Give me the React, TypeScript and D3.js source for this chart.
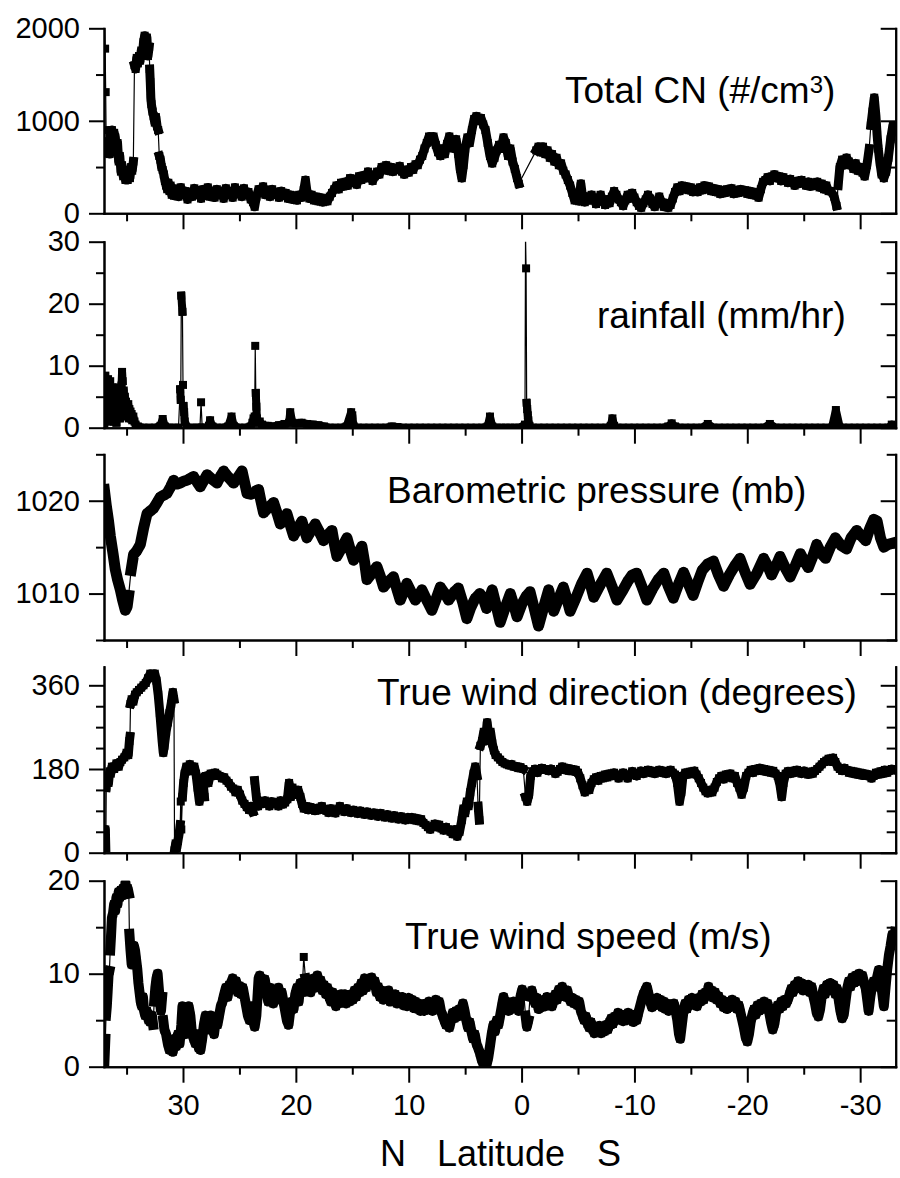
import React, { useEffect, useRef } from "react";
import * as d3 from "d3";

type Pt = [number, number];

// ---------- data: [latitude, value] ----------
const cnData: Pt[] = [
  [36.97, 2150], [36.9, 1780], [36.85, 1310], [36.8, 680], [36.75, 900], [36.7, 650], [36.6, 780], [36.5, 640], [36.4, 820], [36.3, 900],
  [36.2, 760], [36.1, 870], [36.0, 820], [35.9, 700], [35.8, 760], [35.7, 560], [35.6, 620], [35.5, 450], [35.4, 520], [35.3, 400],
  [35.2, 430], [35.1, 360], [35.0, 400], [34.9, 360], [34.8, 420], [34.7, 380], [34.6, 500], [34.5, 460], [34.4, 560],
  [34.3, 1600], [34.2, 1560], [34.1, 1680], [34.0, 1620], [33.9, 1700], [33.8, 1650], [33.7, 1760], [33.6, 1700], [33.5, 1850], [33.4, 1920],
  [33.3, 1780], [33.2, 1900], [33.1, 1700], [33.0, 1800], [32.95, 1560], [32.9, 1420], [32.85, 1250], [32.8, 1180], [32.7, 1100], [32.6, 1050],
  [32.5, 980], [32.4, 1040], [32.3, 940], [32.2, 900], [32.1, 620], [32.0, 580], [31.9, 500], [31.8, 470], [31.7, 420], [31.6, 350],
  [31.5, 300], [31.4, 260], [31.3, 330], [31.2, 240], [31.1, 300], [31.0, 200], [30.9, 270], [30.8, 190], [30.6, 260], [30.4, 180],
  [30.2, 280], [30.0, 200], [29.8, 240], [29.6, 150], [29.4, 230], [29.2, 180], [29.0, 270], [28.8, 200], [28.6, 250], [28.4, 160],
  [28.2, 260], [28.0, 190], [27.8, 280], [27.6, 180], [27.4, 240], [27.2, 170], [27.0, 260], [26.8, 200], [26.6, 240], [26.4, 160],
  [26.2, 270], [26.0, 200], [25.8, 230], [25.6, 170], [25.4, 280], [25.2, 210], [25.0, 250], [24.8, 180], [24.6, 270], [24.4, 200],
  [24.2, 230], [24.0, 150], [23.8, 120], [23.65, 70], [23.5, 180], [23.3, 260], [23.1, 220], [22.9, 290], [22.7, 200], [22.5, 250],
  [22.3, 180], [22.1, 260], [21.9, 200], [21.7, 230], [21.5, 170], [21.3, 240], [21.1, 190], [20.9, 220], [20.7, 160], [20.5, 200],
  [20.3, 150], [20.1, 190], [19.9, 140], [19.7, 200], [19.5, 170], [19.3, 250], [19.15, 360], [19.0, 220], [18.8, 160], [18.6, 200],
  [18.4, 140], [18.2, 180], [18.0, 130], [17.8, 170], [17.6, 120], [17.4, 160], [17.2, 130], [17.0, 180], [16.8, 220], [16.6, 260],
  [16.4, 300], [16.2, 260], [16.0, 330], [15.8, 290], [15.6, 340], [15.4, 300], [15.2, 380], [15.0, 330], [14.8, 370], [14.6, 310],
  [14.4, 400], [14.2, 360], [14.0, 410], [13.8, 380], [13.6, 450], [13.4, 400], [13.2, 350], [13.0, 400], [12.8, 450], [12.6, 420],
  [12.4, 500], [12.2, 470], [12.0, 520], [11.8, 460], [11.6, 500], [11.4, 450], [11.2, 490], [11.0, 470], [10.8, 510], [10.6, 450],
  [10.4, 420], [10.2, 470], [10.0, 440], [9.8, 500], [9.6, 470], [9.4, 530], [9.2, 520], [9.0, 580], [8.8, 620], [8.6, 700],
  [8.4, 760], [8.2, 830], [8.0, 780], [7.8, 830], [7.6, 740], [7.4, 660], [7.2, 620], [7.0, 700], [6.8, 640], [6.6, 750],
  [6.4, 830], [6.2, 760], [6.0, 700], [5.8, 800], [5.6, 640], [5.45, 480], [5.3, 380], [5.15, 520], [5.0, 700], [4.8, 820],
  [4.6, 760], [4.4, 900], [4.2, 1020], [4.0, 1050], [3.8, 1000], [3.6, 1030], [3.4, 960], [3.2, 900], [3.0, 760], [2.8, 620],
  [2.6, 540], [2.4, 600], [2.2, 680], [2.0, 740], [1.8, 700], [1.6, 820], [1.4, 760], [1.2, 620], [1.0, 700], [0.8, 560],
  [0.6, 480], [0.4, 380], [0.25, 320],
  [-1.3, 680], [-1.5, 720], [-1.7, 660], [-1.9, 720], [-2.1, 640], [-2.3, 680], [-2.5, 600], [-2.7, 640], [-2.9, 560], [-3.1, 600],
  [-3.3, 520], [-3.5, 540], [-3.7, 460], [-3.9, 420], [-4.1, 360], [-4.3, 300], [-4.5, 220], [-4.7, 140], [-4.9, 200], [-5.1, 130],
  [-5.25, 320], [-5.4, 180], [-5.6, 120], [-5.8, 180], [-6.0, 140], [-6.2, 200], [-6.4, 150], [-6.6, 100], [-6.8, 160], [-7.0, 200],
  [-7.2, 130], [-7.4, 90], [-7.6, 150], [-7.8, 110], [-8.0, 180], [-8.2, 240], [-8.4, 200], [-8.6, 150], [-8.8, 120], [-9.0, 80],
  [-9.2, 140], [-9.4, 200], [-9.6, 160], [-9.8, 220], [-10.0, 170], [-10.2, 120], [-10.4, 80], [-10.6, 60], [-10.8, 110], [-11.0, 150],
  [-11.2, 200], [-11.4, 160], [-11.6, 100], [-11.8, 70], [-12.0, 130], [-12.2, 180], [-12.4, 120], [-12.6, 70], [-12.8, 110], [-13.0, 60],
  [-13.2, 90], [-13.4, 160], [-13.6, 230], [-13.8, 280], [-14.0, 240], [-14.2, 300], [-14.4, 260], [-14.6, 290], [-14.8, 250], [-15.0, 280],
  [-15.2, 230], [-15.4, 260], [-15.6, 230], [-15.8, 280], [-16.0, 250], [-16.2, 300], [-16.4, 260], [-16.6, 290], [-16.8, 240], [-17.0, 270],
  [-17.2, 230], [-17.4, 260], [-17.6, 210], [-17.8, 250], [-18.0, 220], [-18.2, 260], [-18.4, 230], [-18.6, 270], [-18.8, 210], [-19.0, 250],
  [-19.2, 220], [-19.4, 260], [-19.6, 230], [-19.8, 250], [-20.0, 210], [-20.2, 240], [-20.4, 200], [-20.6, 230], [-20.8, 190], [-21.0, 170],
  [-21.2, 260], [-21.4, 340], [-21.6, 360], [-21.8, 390], [-22.0, 350], [-22.2, 400], [-22.4, 420], [-22.6, 380], [-22.8, 400], [-23.0, 350],
  [-23.2, 390], [-23.4, 360], [-23.6, 330], [-23.8, 370], [-24.0, 340], [-24.2, 300], [-24.4, 350], [-24.6, 320], [-24.8, 360], [-25.0, 330],
  [-25.2, 300], [-25.4, 340], [-25.6, 290], [-25.8, 330], [-26.0, 300], [-26.2, 340], [-26.4, 280], [-26.6, 320], [-26.8, 260], [-27.0, 300],
  [-27.2, 240], [-27.4, 240], [-27.7, 180], [-27.9, 80], [-28.05, 300], [-28.2, 500], [-28.4, 580], [-28.6, 520], [-28.8, 600], [-29.0, 560],
  [-29.2, 520], [-29.4, 480], [-29.6, 540], [-29.8, 460], [-30.0, 500], [-30.2, 440], [-30.4, 400], [-30.6, 520], [-30.8, 700], [-30.95, 950],
  [-31.1, 1100], [-31.25, 1250], [-31.4, 1050], [-31.5, 850], [-31.6, 700], [-31.75, 550], [-31.9, 420], [-32.1, 380], [-32.3, 450], [-32.5, 600],
  [-32.7, 800], [-32.9, 950], [-33.1, 880],
];

const rainData: Pt[] = [
  [36.97, 0], [36.93, 4], [36.88, 8.4], [36.84, 2], [36.8, 6], [36.75, 1], [36.7, 5], [36.65, 7.8], [36.6, 3], [36.55, 5.5],
  [36.5, 1.5], [36.45, 7.5], [36.4, 2.5], [36.35, 4.5], [36.3, 1], [36.25, 6.5], [36.2, 2], [36.15, 4], [36.1, 1], [36.05, 5.5],
  [36.0, 2.5], [35.95, 3.5], [35.9, 0.8], [35.85, 5], [35.8, 2], [35.75, 6.5], [35.7, 3], [35.65, 4.5], [35.6, 1.5], [35.55, 6],
  [35.5, 2.5], [35.45, 6.8], [35.4, 9.0], [35.35, 7.5], [35.3, 4], [35.25, 6], [35.2, 3], [35.15, 5], [35.1, 2.5], [35.05, 4.2],
  [35.0, 1.8], [34.95, 3.5], [34.9, 2.2], [34.85, 3.8], [34.8, 1.5], [34.75, 3], [34.7, 2], [34.65, 2.6], [34.6, 1.5], [34.55, 2.2],
  [34.5, 1.2], [34.4, 1.8], [34.3, 1], [34.2, 0.5], [34.0, 0.2], [33.5, 0], [33.0, 0], [32.5, 0], [32.0, 0.3], [31.8, 1.4],
  [31.6, 0.2], [31.2, 0], [30.8, 0], [30.4, 0], [30.25, 6.2], [30.2, 4.5], [30.15, 21.3], [30.05, 18.7], [30.0, 6.9], [29.95, 3.5],
  [29.9, 2.5], [29.85, 1], [29.6, 0], [29.2, 0], [28.8, 0], [28.5, 0], [28.4, 4.1], [28.3, 0], [28.0, 0], [27.7, 0.3],
  [27.6, 1.2], [27.4, 0.2], [27.0, 0], [26.5, 0], [26.0, 0.2], [25.7, 1.8], [25.5, 0.3], [25.0, 0], [24.5, 0], [24.0, 0.2],
  [23.85, 0.8], [23.75, 1.5], [23.65, 1.8], [23.6, 13.2], [23.55, 5.6], [23.5, 3.4], [23.45, 1.5], [23.35, 0.8], [23.2, 1.0], [23.0, 0.5],
  [22.5, 0.3], [22.0, 0.2], [21.5, 0.4], [21.0, 0.6], [20.6, 0.8], [20.5, 2.5], [20.3, 0.8], [20.0, 0.7], [19.5, 0.8], [19.0, 0.6],
  [18.5, 0.5], [18.0, 0.4], [17.5, 0.2], [17.0, 0], [16.5, 0], [16.0, 0], [15.5, 0.2], [15.1, 2.5], [15.0, 2.0], [14.9, 0.3],
  [14.5, 0], [14.0, 0], [13.5, 0], [13.0, 0], [12.5, 0], [12.0, 0], [11.5, 0.2], [11.0, 0.1], [10.5, 0], [10.0, 0],
  [9.5, 0], [9.0, 0], [8.5, 0], [8.0, 0], [7.5, 0], [7.0, 0], [6.5, 0], [6.0, 0], [5.5, 0], [5.0, 0],
  [4.5, 0], [4.0, 0], [3.5, 0], [3.0, 0.2], [2.8, 1.8], [2.6, 0.2], [2.2, 0], [1.8, 0], [1.4, 0], [1.0, 0],
  [0.6, 0], [0.2, 0], [-0.3, 0.5], [-0.35, 31], [-0.4, 25.7], [-0.45, 4.0], [-0.5, 3.0], [-0.55, 2.0], [-0.6, 1.2], [-0.7, 0.3],
  [-1.0, 0], [-1.5, 0], [-2.0, 0], [-2.5, 0], [-3.0, 0], [-3.5, 0], [-4.0, 0], [-4.5, 0], [-5.0, 0], [-5.5, 0],
  [-6.0, 0], [-6.5, 0], [-7.0, 0], [-7.5, 0], [-7.9, 0.3], [-8.05, 1.5], [-8.2, 0.3], [-8.5, 0], [-9.0, 0], [-9.5, 0],
  [-10.0, 0], [-10.5, 0], [-11.0, 0], [-11.5, 0], [-12.0, 0], [-12.5, 0], [-13.0, 0.2], [-13.3, 0.7], [-13.6, 0.2], [-14.0, 0],
  [-14.5, 0], [-15.0, 0], [-15.5, 0], [-16.0, 0], [-16.5, 0.6], [-17.0, 0], [-17.5, 0], [-18.0, 0], [-18.5, 0], [-19.0, 0],
  [-19.5, 0], [-20.0, 0], [-20.5, 0], [-21.0, 0], [-21.5, 0], [-22.0, 0.6], [-22.5, 0], [-23.0, 0], [-23.5, 0], [-24.0, 0],
  [-24.5, 0], [-25.0, 0], [-25.5, 0], [-26.0, 0], [-26.5, 0], [-27.0, 0], [-27.5, 0], [-27.85, 2.85], [-28.2, 0], [-28.5, 0],
  [-29.0, 0], [-29.5, 0], [-30.0, 0], [-30.5, 0], [-31.0, 0], [-31.5, 0], [-32.0, 0], [-32.5, 0], [-32.8, 0.5], [-33.1, 0],
];

const pressureData: Pt[] = [
  [36.97, 1021.2], [36.8, 1019.5], [36.6, 1017.8], [36.44, 1016.2], [36.2, 1014.3], [36.0, 1012.6], [35.8, 1011.5], [35.55, 1010.4], [35.35, 1009.3], [35.11, 1008.2],
  [34.95, 1008.6], [34.82, 1009.8], [34.6, 1012.5], [34.38, 1014.2], [34.1, 1014.6], [33.78, 1015.3], [33.5, 1017], [33.19, 1018.6], [32.9, 1018.9], [32.6, 1019.2],
  [32.3, 1019.8], [32.01, 1020.4], [31.7, 1020.6], [31.42, 1020.8], [31.1, 1021.5], [30.83, 1022.2], [30.5, 1021.8], [30.24, 1021.9], [29.95, 1022.1], [29.65, 1022.2],
  [29.35, 1022.4], [29.06, 1022.6], [28.75, 1022], [28.47, 1021.5], [28.15, 1022.2], [27.87, 1022.8], [27.4, 1022.3], [26.99, 1021.9], [26.7, 1022.6], [26.4, 1023.2],
  [25.95, 1022.5], [25.52, 1021.9], [25.15, 1022.5], [24.77, 1023.2], [24.55, 1022], [24.33, 1020.8], [24.0, 1020.7], [23.75, 1020.8], [23.5, 1021.1], [23.3, 1021.2],
  [23.1, 1020], [22.86, 1018.7], [22.4, 1019.3], [21.97, 1019.8], [21.65, 1018.6], [21.38, 1017.5], [21.1, 1018], [20.79, 1018.6], [20.5, 1017.4], [20.2, 1016.2],
  [19.85, 1017], [19.46, 1017.8], [19.25, 1016.9], [19.02, 1016], [18.65, 1016.8], [18.28, 1017.5], [17.9, 1016.6], [17.55, 1015.7], [17.2, 1016.3], [16.8, 1016.8],
  [16.6, 1015.4], [16.36, 1014], [15.9, 1015], [15.47, 1016], [15.2, 1014.8], [14.89, 1013.6], [14.5, 1014.3], [14.15, 1015.1], [13.9, 1013.3], [13.7, 1011.5],
  [13.25, 1012.2], [12.82, 1012.9], [12.5, 1011.8], [12.23, 1010.7], [11.8, 1011.3], [11.35, 1011.8], [11.05, 1010.5], [10.75, 1009.3], [10.45, 1010.2], [10.16, 1011.1],
  [9.8, 1010.2], [9.42, 1009.3], [9.1, 1009.8], [8.83, 1010.4], [8.4, 1009.3], [7.95, 1008.2], [7.55, 1009.5], [7.2, 1010.7], [6.8, 1010], [6.47, 1009.3],
  [5.95, 1010.2], [5.6, 1010.6], [5.2, 1009], [4.85, 1007.3], [4.5, 1008.5], [4.1, 1009.5], [3.7, 1010], [3.4, 1009.5], [3.1, 1008.4], [2.85, 1009.5],
  [2.6, 1010.4], [2.25, 1008.7], [1.9, 1006.9], [1.45, 1008.5], [1.0, 1010], [0.7, 1008.8], [0.4, 1007.5], [0.0, 1008.8], [-0.4, 1009.7], [-0.75, 1010.2],
  [-1.1, 1008.5], [-1.5, 1006.5], [-1.95, 1008.5], [-2.4, 1010.4], [-2.6, 1009.2], [-2.85, 1008.1], [-3.3, 1009.5], [-3.7, 1010.7], [-4.0, 1009.5], [-4.3, 1008.1],
  [-4.8, 1009.5], [-5.3, 1011], [-5.8, 1012.2], [-6.1, 1011], [-6.4, 1009.6], [-7.0, 1011], [-7.55, 1012.2], [-8.0, 1010.8], [-8.45, 1009.3], [-8.9, 1010.2],
  [-9.4, 1011.3], [-9.8, 1012], [-10.2, 1012.2], [-10.65, 1010.8], [-11.1, 1009.3], [-11.6, 1010.5], [-12.1, 1011.5], [-12.6, 1012.2], [-13.0, 1010.8], [-13.45, 1009.5],
  [-13.9, 1011], [-14.35, 1012.3], [-14.8, 1011], [-15.2, 1009.8], [-15.6, 1011.2], [-16.0, 1012.5], [-16.5, 1013.2], [-17.0, 1013.5], [-17.45, 1012], [-17.9, 1010.8],
  [-18.4, 1012], [-18.9, 1013], [-19.35, 1013.8], [-19.8, 1012.3], [-20.25, 1011], [-20.85, 1012.2], [-21.45, 1013.8], [-21.8, 1013], [-22.15, 1012], [-22.55, 1013],
  [-22.9, 1014], [-23.35, 1012.8], [-23.8, 1011.8], [-24.25, 1013], [-24.7, 1014.3], [-25.05, 1013.5], [-25.4, 1012.8], [-25.8, 1014], [-26.15, 1015.3], [-26.55, 1014.3],
  [-26.95, 1013.8], [-27.35, 1015], [-27.8, 1016], [-28.3, 1015.2], [-28.8, 1014.8], [-29.2, 1016], [-29.7, 1016.8], [-30.1, 1016.2], [-30.5, 1015.7], [-30.85, 1017],
  [-31.2, 1018], [-31.5, 1017.8], [-31.8, 1016], [-32.1, 1015], [-32.5, 1015.3], [-33.1, 1015.5],
];

const windDirData: Pt[] = [
  [36.97, 40], [36.93, 15], [36.88, 50], [36.84, 10], [36.8, 140], [36.7, 160], [36.6, 150], [36.5, 175], [36.4, 170], [36.3, 185],
  [36.1, 180], [35.9, 192], [35.7, 185], [35.55, 195], [35.4, 200], [35.2, 205], [35.0, 215], [34.85, 210], [34.75, 240], [34.7, 250],
  [34.65, 320], [34.55, 330], [34.4, 325], [34.25, 340], [34.1, 345], [33.9, 350], [33.7, 355], [33.5, 360], [33.3, 365], [33.1, 375],
  [32.9, 385], [32.7, 380], [32.5, 385], [32.35, 370], [32.2, 340], [32.05, 300], [31.95, 270], [31.85, 240], [31.75, 215], [31.65, 230],
  [31.5, 260], [31.35, 280], [31.2, 300], [31.05, 320], [30.9, 345], [30.8, 330], [30.75, 5], [30.65, 20], [30.55, 10], [30.45, 25],
  [30.35, 40], [30.25, 60], [30.2, 110], [30.15, 50], [30.05, 120], [29.95, 150], [29.85, 170], [29.7, 185], [29.55, 175], [29.4, 190],
  [29.2, 180], [29.0, 185], [28.85, 170], [28.7, 140], [28.55, 110], [28.4, 130], [28.25, 160], [28.1, 120], [27.95, 165], [27.75, 150],
  [27.55, 170], [27.35, 165], [27.15, 172], [26.95, 168], [26.75, 165], [26.55, 160], [26.35, 162], [26.15, 155], [25.95, 150], [25.75, 142],
  [25.55, 138], [25.35, 130], [25.15, 135], [24.95, 125], [24.75, 112], [24.55, 105], [24.35, 98], [24.15, 92], [23.95, 100], [23.8, 88],
  [23.65, 155], [23.5, 120], [23.35, 100], [23.15, 110], [22.95, 105], [22.75, 112], [22.55, 108], [22.35, 100], [22.15, 110], [21.95, 105],
  [21.75, 108], [21.55, 100], [21.35, 112], [21.15, 104], [20.95, 108], [20.75, 115], [20.6, 150], [20.45, 120], [20.3, 140], [20.15, 130],
  [20.0, 125], [19.8, 135], [19.6, 120], [19.45, 105], [19.3, 95], [19.1, 100], [18.9, 92], [18.7, 98], [18.5, 95], [18.3, 90],
  [18.1, 96], [17.9, 92], [17.7, 100], [17.5, 94], [17.3, 90], [17.1, 86], [16.9, 95], [16.7, 90], [16.5, 85], [16.3, 92],
  [16.1, 100], [15.9, 93], [15.7, 88], [15.5, 95], [15.3, 90], [15.1, 86], [14.9, 92], [14.7, 88], [14.5, 84], [14.3, 90],
  [14.1, 86], [13.9, 82], [13.7, 88], [13.5, 84], [13.3, 80], [13.1, 86], [12.9, 82], [12.7, 78], [12.5, 85], [12.3, 80],
  [12.1, 76], [11.9, 82], [11.7, 78], [11.5, 74], [11.3, 80], [11.1, 76], [10.9, 72], [10.7, 78], [10.5, 74], [10.3, 70],
  [10.1, 76], [9.9, 72], [9.7, 76], [9.5, 70], [9.3, 74], [9.1, 68], [8.9, 72], [8.7, 64], [8.5, 60], [8.3, 55],
  [8.1, 50], [7.9, 56], [7.7, 62], [7.5, 55], [7.3, 60], [7.1, 52], [6.9, 48], [6.7, 55], [6.5, 50], [6.3, 45],
  [6.1, 40], [5.9, 50], [5.7, 35], [5.5, 45], [5.3, 70], [5.15, 95], [5.0, 85], [4.85, 110], [4.7, 100], [4.55, 130],
  [4.4, 150], [4.25, 170], [4.1, 185], [3.95, 165], [3.85, 100], [3.75, 70], [3.65, 230], [3.5, 240], [3.35, 260], [3.2, 240],
  [3.05, 280], [2.9, 250], [2.75, 260], [2.6, 235], [2.45, 220], [2.3, 210], [2.1, 205], [1.9, 200], [1.7, 195], [1.5, 192],
  [1.3, 190], [1.1, 188], [0.9, 190], [0.7, 185], [0.5, 186], [0.3, 182], [0.1, 184], [-0.15, 180], [-0.35, 120], [-0.5, 110],
  [-0.65, 125], [-0.8, 165], [-1.0, 175], [-1.2, 180], [-1.4, 172], [-1.6, 178], [-1.8, 182], [-2.0, 180], [-2.2, 178], [-2.4, 176],
  [-2.6, 180], [-2.8, 176], [-3.0, 170], [-3.2, 174], [-3.4, 180], [-3.6, 185], [-3.8, 178], [-4.0, 182], [-4.2, 176], [-4.4, 180],
  [-4.6, 175], [-4.8, 178], [-5.0, 172], [-5.2, 160], [-5.4, 145], [-5.6, 130], [-5.8, 140], [-6.0, 135], [-6.2, 150], [-6.4, 158],
  [-6.6, 162], [-6.8, 155], [-7.0, 165], [-7.2, 160], [-7.4, 168], [-7.6, 162], [-7.8, 170], [-8.0, 165], [-8.2, 172], [-8.4, 166],
  [-8.6, 160], [-8.8, 168], [-9.0, 172], [-9.2, 166], [-9.4, 160], [-9.6, 168], [-9.8, 175], [-10.0, 168], [-10.2, 165], [-10.4, 172],
  [-10.6, 176], [-10.8, 170], [-11.0, 174], [-11.2, 178], [-11.4, 172], [-11.6, 176], [-11.8, 170], [-12.0, 174], [-12.2, 178], [-12.4, 172],
  [-12.6, 176], [-12.8, 170], [-13.0, 174], [-13.2, 178], [-13.4, 172], [-13.6, 168], [-13.8, 150], [-14.0, 110], [-14.15, 130], [-14.3, 165],
  [-14.5, 172], [-14.7, 168], [-14.9, 174], [-15.1, 170], [-15.3, 176], [-15.5, 168], [-15.7, 160], [-15.9, 150], [-16.1, 140], [-16.3, 132],
  [-16.5, 128], [-16.7, 135], [-16.9, 130], [-17.1, 140], [-17.3, 152], [-17.5, 160], [-17.7, 165], [-17.9, 158], [-18.1, 168], [-18.3, 162],
  [-18.5, 170], [-18.7, 160], [-18.9, 165], [-19.1, 150], [-19.3, 140], [-19.5, 125], [-19.7, 140], [-19.9, 165], [-20.1, 172], [-20.3, 178],
  [-20.5, 172], [-20.7, 180], [-20.9, 176], [-21.1, 182], [-21.3, 176], [-21.5, 180], [-21.7, 174], [-21.9, 178], [-22.1, 172], [-22.3, 176],
  [-22.5, 170], [-22.7, 165], [-22.9, 145], [-23.05, 120], [-23.2, 150], [-23.4, 170], [-23.6, 175], [-23.8, 170], [-24.0, 176], [-24.2, 172],
  [-24.4, 178], [-24.6, 174], [-24.8, 170], [-25.0, 176], [-25.2, 172], [-25.4, 168], [-25.6, 174], [-25.8, 170], [-26.0, 176], [-26.2, 180],
  [-26.4, 185], [-26.6, 190], [-26.8, 195], [-27.0, 198], [-27.2, 202], [-27.4, 196], [-27.6, 204], [-27.8, 195], [-28.0, 185], [-28.2, 180],
  [-28.4, 176], [-28.6, 182], [-28.8, 178], [-29.0, 172], [-29.2, 176], [-29.4, 170], [-29.6, 174], [-29.8, 168], [-30.0, 172], [-30.2, 166],
  [-30.4, 170], [-30.6, 165], [-30.8, 168], [-31.0, 160], [-31.2, 165], [-31.4, 172], [-31.6, 168], [-31.8, 175], [-32.0, 170], [-32.2, 178],
  [-32.4, 172], [-32.6, 176], [-32.8, 180], [-33.05, 178],
];

const windSpeedData: Pt[] = [
  [36.97, 0.3], [36.93, 1.5], [36.88, 3], [36.82, 5.5], [36.75, 6.5], [36.68, 8], [36.6, 9.8], [36.52, 10.3], [36.45, 12.5], [36.38, 14],
  [36.3, 16], [36.2, 16.5], [36.1, 17.5], [36.0, 16.8], [35.9, 18.2], [35.8, 17.5], [35.7, 18.8], [35.6, 18.2], [35.5, 19], [35.4, 18.4],
  [35.3, 19.2], [35.2, 18.6], [35.1, 19.8], [35.0, 18.8], [34.9, 19.2], [34.8, 18.6], [34.75, 14.3], [34.65, 12.5], [34.55, 11], [34.45, 12],
  [34.35, 13], [34.25, 12.5], [34.15, 11.5], [34.05, 10.5], [33.95, 9], [33.85, 8], [33.75, 7], [33.65, 6.5], [33.55, 7.5], [33.45, 6],
  [33.35, 5.5], [33.2, 6], [33.05, 5], [32.9, 4.8], [32.75, 5.5], [32.65, 4.5], [32.55, 7], [32.45, 8.5], [32.35, 9.5], [32.25, 10],
  [32.15, 8.5], [32.05, 7], [31.95, 6], [31.85, 7.5], [31.75, 5], [31.65, 4], [31.5, 3.5], [31.35, 2.5], [31.2, 1.8], [31.05, 2.5],
  [30.9, 1.6], [30.75, 3], [30.6, 2.2], [30.45, 3.5], [30.3, 2.5], [30.15, 4.5], [30.05, 6.5], [29.95, 5], [29.8, 3.5], [29.65, 4.5],
  [29.5, 6.5], [29.35, 5.5], [29.2, 3.5], [29.05, 3], [28.9, 2.5], [28.75, 3.5], [28.6, 2], [28.45, 1.8], [28.3, 3], [28.15, 4.5],
  [28.0, 5.5], [27.85, 5], [27.7, 4], [27.55, 5.5], [27.4, 4.5], [27.25, 3.5], [27.1, 5], [26.95, 4.5], [26.8, 5.5], [26.65, 6.5],
  [26.5, 7], [26.35, 7.8], [26.2, 8.5], [26.05, 7.5], [25.9, 8.8], [25.75, 9], [25.6, 9.5], [25.45, 8.5], [25.3, 9.2], [25.15, 8],
  [25.0, 8.7], [24.85, 7.8], [24.7, 8.5], [24.55, 7.5], [24.4, 6.5], [24.25, 5.5], [24.1, 5], [23.95, 6.5], [23.8, 5], [23.65, 4.3],
  [23.5, 5.5], [23.4, 7.5], [23.3, 9.5], [23.2, 9.8], [23.05, 9.2], [22.9, 8.5], [22.75, 9.4], [22.6, 8], [22.45, 7], [22.3, 8.5],
  [22.15, 7.5], [22.0, 6.8], [21.85, 8.2], [21.7, 7.5], [21.55, 8.5], [21.4, 7.2], [21.25, 8], [21.1, 7], [20.95, 6], [20.8, 5],
  [20.65, 4.5], [20.5, 6], [20.35, 7], [20.2, 6.2], [20.05, 7.8], [19.9, 8.5], [19.75, 7], [19.6, 9], [19.45, 8], [19.3, 11.8],
  [19.15, 9.5], [19.0, 8.5], [18.85, 9.2], [18.7, 8], [18.55, 8.8], [18.4, 9.5], [18.25, 8.5], [18.1, 9.8], [17.95, 8.8], [17.8, 9.3],
  [17.65, 8.2], [17.5, 8.8], [17.35, 7.8], [17.2, 8.5], [17.05, 7.5], [16.9, 7], [16.75, 8], [16.6, 7.2], [16.45, 6.5], [16.3, 7.5],
  [16.15, 6.8], [16.0, 7.8], [15.85, 7], [15.7, 7.8], [15.55, 6.8], [15.4, 7.5], [15.25, 7], [15.1, 7.8], [14.95, 7.2], [14.8, 8.2],
  [14.65, 7.5], [14.5, 8.5], [14.35, 8], [14.2, 9], [14.05, 8.2], [13.9, 9.5], [13.75, 8.5], [13.6, 9.2], [13.45, 8.8], [13.3, 9.6],
  [13.15, 8.8], [13.0, 9.2], [12.85, 8], [12.7, 8.6], [12.55, 7.5], [12.4, 8.2], [12.25, 7.2], [12.1, 8], [11.95, 7.4], [11.8, 8.2],
  [11.65, 7], [11.5, 7.8], [11.35, 7.2], [11.2, 7.8], [11.05, 6.8], [10.9, 7.5], [10.75, 6.8], [10.6, 7.5], [10.45, 6.6], [10.3, 7.2],
  [10.15, 6.5], [10.0, 7.4], [9.85, 6.8], [9.7, 7.2], [9.55, 6.3], [9.4, 7], [9.25, 6.2], [9.1, 6.8], [8.95, 6], [8.8, 6.6],
  [8.65, 6], [8.5, 6.8], [8.35, 6.2], [8.2, 7], [8.05, 6.4], [7.9, 6], [7.75, 6.8], [7.6, 7.2], [7.45, 6.5], [7.3, 7],
  [7.15, 6], [7.0, 5.5], [6.85, 5], [6.7, 4.5], [6.55, 5], [6.4, 4.2],
  [6.25, 5], [6.1, 5.8], [5.95, 5.2], [5.8, 6], [5.65, 5.4], [5.5, 6.2], [5.35, 5.5], [5.2, 6.8], [5.05, 6], [4.9, 5],
  [4.75, 4.2], [4.6, 4.8], [4.45, 3.8], [4.3, 3], [4.15, 3.5], [4.0, 2.5], [3.85, 2], [3.7, 1.5], [3.55, 0.8], [3.4, 0.3],
  [3.25, 0.8], [3.1, 0.2], [2.95, 1], [2.8, 2.2], [2.65, 3.5], [2.5, 4.5], [2.35, 3.8], [2.2, 5], [2.05, 4.5], [1.9, 5.5],
  [1.75, 6.5], [1.6, 7.5], [1.45, 6.5], [1.3, 7], [1.15, 6], [1.0, 6.8], [0.85, 6.2], [0.7, 7], [0.55, 6.4], [0.4, 6.8],
  [0.25, 6], [0.1, 7.5], [-0.05, 8.3], [-0.2, 7.8], [-0.35, 5.5], [-0.47, 4.3], [-0.6, 5], [-0.75, 7.5], [-0.9, 8.2], [-1.05, 7.4],
  [-1.2, 6.8], [-1.35, 7.4], [-1.5, 6.2], [-1.65, 7], [-1.8, 6.4], [-1.95, 7.2], [-2.1, 6.5], [-2.25, 7.5], [-2.4, 6.8], [-2.55, 7.4],
  [-2.7, 6.5], [-2.85, 7.2], [-3.0, 7.8], [-3.15, 7.2], [-3.3, 8.3], [-3.45, 7.8], [-3.6, 8.6], [-3.75, 8], [-3.9, 7.5], [-4.05, 8.2],
  [-4.2, 7.4], [-4.35, 7], [-4.5, 7.4], [-4.65, 6.8], [-4.8, 7.2], [-4.95, 6.6], [-5.1, 7], [-5.25, 6], [-5.4, 5.5], [-5.55, 5],
  [-5.7, 5.4], [-5.85, 4.6], [-6.0, 4.2], [-6.15, 4.8], [-6.3, 4], [-6.45, 3.6], [-6.6, 4.3], [-6.75, 3.8], [-6.9, 4.4], [-7.05, 3.6],
  [-7.2, 4.2], [-7.35, 3.8], [-7.5, 4.5], [-7.65, 4], [-7.8, 4.8], [-7.95, 5.2], [-8.1, 4.6], [-8.25, 5.4], [-8.4, 5], [-8.55, 5.8],
  [-8.7, 5.2], [-8.85, 5.6], [-9.0, 4.9], [-9.15, 5.5], [-9.3, 5], [-9.45, 5.8], [-9.6, 5.2], [-9.75, 5.6], [-9.9, 4.8], [-10.05, 5.4],
  [-10.2, 5], [-10.35, 5.8], [-10.5, 6.5], [-10.65, 7.2], [-10.8, 7.8], [-10.95, 8.2], [-11.1, 8.6], [-11.25, 7.8], [-11.4, 7], [-11.55, 6.4],
  [-11.7, 7.2], [-11.85, 6.6], [-12.0, 7.4], [-12.15, 6.8], [-12.3, 7.2], [-12.45, 6.4], [-12.6, 7], [-12.75, 6.2], [-12.9, 6.8], [-13.05, 6],
  [-13.2, 6.6], [-13.35, 6.2], [-13.5, 6.8], [-13.65, 6], [-13.8, 5], [-13.95, 3.5], [-14.05, 3], [-14.2, 4.5], [-14.35, 6], [-14.5, 6.8],
  [-14.65, 6.2], [-14.8, 7.2], [-14.95, 6.6], [-15.1, 7.4], [-15.25, 6.8], [-15.4, 7.2], [-15.55, 6.5], [-15.7, 7.4], [-15.85, 7], [-16.0, 7.8],
  [-16.15, 7.2], [-16.3, 8], [-16.45, 7.6], [-16.56, 8.6], [-16.7, 7.8], [-16.85, 8.2], [-17.0, 7.4], [-17.15, 8], [-17.3, 7.2], [-17.45, 7.6],
  [-17.6, 6.8], [-17.75, 7.2], [-17.9, 6.4], [-18.05, 7], [-18.2, 6.2], [-18.35, 6.8], [-18.5, 6.4], [-18.65, 7.2], [-18.8, 6.6], [-18.95, 7],
  [-19.1, 6.2], [-19.25, 6.6], [-19.4, 5.8], [-19.55, 5], [-19.7, 4.2], [-19.85, 3.2], [-20.0, 2.7], [-20.15, 3.5], [-20.3, 4.8], [-20.45, 5.6],
  [-20.6, 6.2], [-20.75, 5.6], [-20.9, 6.6], [-21.05, 6], [-21.2, 6.8], [-21.35, 6.2], [-21.5, 7], [-21.65, 6.4], [-21.8, 6.8], [-21.95, 5.8],
  [-22.1, 4.8], [-22.25, 4], [-22.4, 4.6], [-22.55, 5.8], [-22.7, 6.6], [-22.85, 6.2], [-23.0, 7], [-23.15, 6.5], [-23.3, 7.2], [-23.45, 6.8],
  [-23.6, 7.2], [-23.75, 7.8], [-23.9, 8.4], [-24.05, 8], [-24.2, 8.8], [-24.35, 8.4], [-24.5, 9.2], [-24.65, 8.6], [-24.8, 9], [-24.95, 8.2],
  [-25.1, 8.8], [-25.25, 8.2], [-25.4, 8.8], [-25.55, 8], [-25.7, 8.6], [-25.85, 7.6], [-26.0, 6.8], [-26.15, 5.8], [-26.3, 5.4], [-26.45, 6.2],
  [-26.6, 7.6], [-26.75, 8.4], [-26.9, 7.8], [-27.05, 8.8], [-27.2, 8.2], [-27.35, 9], [-27.5, 8.2], [-27.65, 8.8], [-27.8, 7.8], [-27.95, 8.4],
  [-28.1, 7.2], [-28.25, 6], [-28.4, 5.2], [-28.55, 5.6], [-28.7, 7], [-28.85, 8.4], [-29.0, 9.2], [-29.15, 8.6], [-29.3, 9.6], [-29.45, 9],
  [-29.6, 9.8], [-29.75, 9.2], [-29.9, 10], [-30.05, 9.4], [-30.2, 9.8], [-30.35, 9], [-30.5, 8.4], [-30.65, 7], [-30.75, 6], [-30.9, 7.5],
  [-31.05, 8.6], [-31.2, 9.2], [-31.35, 8.6], [-31.5, 9.6], [-31.65, 10.4], [-31.8, 9.4], [-31.95, 8], [-32.1, 6.5], [-32.25, 8.5], [-32.4, 10.5],
  [-32.55, 12], [-32.7, 13], [-32.85, 14.2], [-33.0, 13.5], [-33.1, 14.5],
];

// ---------- axis ticks ----------
const latMajorTicks = [30, 20, 10, 0, -10, -20, -30];
const latMinorTicks = [35, 25, 15, 5, -5, -15, -25];
const latTickLabels = ["30", "20", "10", "0", "-10", "-20", "-30"];

const cnMajor = [0, 1000, 2000];
const cnMinor = [500, 1500];
const rainMajor = [0, 10, 20, 30];
const rainMinor = [5, 15, 25];
const pressMajor = [1010, 1020];
const pressMinor = [1005, 1015, 1025];
const dirMajor = [0, 180, 360];
const dirMinor = [45, 90, 135, 225, 270, 315];
const speedMajor = [0, 10, 20];
const speedMinor = [5, 15];

const panelTitles = ["Total CN (#/cm", "rainfall (mm/hr)", "Barometric pressure (mb)", "True wind direction (degrees)", "True wind speed (m/s)"];
const axisTitleParts = ["N", "Latitude", "S"];

// ---------- layout / style ----------
const FONT = "'Liberation Sans', Arial, Helvetica, sans-serif";
const X0 = 104;
const X1 = 895.7;
const LAT_DOMAIN: [number, number] = [37, -33.15];
const axisTitleX = [380, 437, 597];

const panels = [
  { data: cnData, domain: [0, 2000], top: 28.3, bottom: 213.3, major: cnMajor, minor: cnMinor, title: panelTitles[0], tx: 565, ty: 102.7, sup: true, band: 9 },
  { data: rainData, domain: [0, 30], top: 241.7, bottom: 427.7, major: rainMajor, minor: rainMinor, title: panelTitles[1], tx: 597, ty: 328.3, sup: false, band: 8 },
  { data: pressureData, domain: [1005, 1025], top: 454.3, bottom: 640, major: pressMajor, minor: pressMinor, title: panelTitles[2], tx: 387, ty: 503.3, sup: false, band: 11 },
  { data: windDirData, domain: [0, 400], top: 666.7, bottom: 852.7, major: dirMajor, minor: dirMinor, title: panelTitles[3], tx: 377, ty: 705, sup: false, band: 9 },
  { data: windSpeedData, domain: [0, 20], top: 880.7, bottom: 1066.7, major: speedMajor, minor: speedMinor, title: panelTitles[4], tx: 405, ty: 949, sup: false, band: 10 },
];

export default function App() {
  const ref = useRef<SVGSVGElement | null>(null);

  useEffect(() => {
    const svg = d3.select(ref.current);
    svg.selectAll("*").remove();
    const x = d3.scaleLinear().domain(LAT_DOMAIN).range([X0, X1]);
    const defs = svg.append("defs");

    const styleAxis = (g: any, showText: boolean) => {
      g.select(".domain").attr("stroke", "#000").attr("stroke-width", 2).attr("stroke-linecap", "square");
      g.selectAll(".tick line").attr("stroke", "#000").attr("stroke-width", 2);
      g.attr("font-family", FONT).attr("font-size", 29);
      g.selectAll("text").attr("fill", "#000");
      if (!showText) g.selectAll("text").remove();
    };

    panels.forEach((p, i) => {
      const y = d3.scaleLinear().domain(p.domain).range([p.bottom, p.top]);
      const clipId = `clip-panel-${i}`;
      defs.append("clipPath").attr("id", clipId)
        .append("rect").attr("x", X0).attr("y", p.top).attr("width", X1 - X0).attr("height", p.bottom - p.top);

      const plot = svg.append("g").attr("clip-path", `url(#${clipId})`);
      const line = d3.line<Pt>().x((d) => x(d[0])).y((d) => y(d[1]));

      // thin connecting line
      plot.append("path").attr("d", line(p.data) || "").attr("fill", "none").attr("stroke", "#000").attr("stroke-width", 1.2);

      // runs of closely spaced markers merge into a solid band
      const runs: Pt[][] = [];
      let cur: Pt[] = [p.data[0]];
      for (let k = 1; k < p.data.length; k++) {
        const a = p.data[k - 1];
        const b = p.data[k];
        const dist = Math.hypot(x(b[0]) - x(a[0]), y(b[1]) - y(a[1]));
        if (dist <= 20) cur.push(b);
        else {
          if (cur.length > 1) runs.push(cur);
          cur = [b];
        }
      }
      if (cur.length > 1) runs.push(cur);
      plot.selectAll(null).data(runs).join("path")
        .attr("d", (d: Pt[]) => line(d) || "")
        .attr("fill", "none").attr("stroke", "#000").attr("stroke-width", p.band)
        .attr("stroke-linejoin", "round").attr("stroke-linecap", "square");

      // square markers
      plot.selectAll(null).data(p.data).join("rect")
        .attr("x", (d: Pt) => x(d[0]) - 4).attr("y", (d: Pt) => y(d[1]) - 4)
        .attr("width", 8).attr("height", 8).attr("fill", "#000");

      // left axis
      const gl = svg.append("g").attr("transform", `translate(${X0},0)`);
      gl.call(d3.axisLeft(y).tickValues(p.major).tickSize(15).tickPadding(9).tickSizeOuter(0).tickFormat((d: any) => String(d)));
      styleAxis(gl, true);
      const glm = svg.append("g").attr("transform", `translate(${X0},0)`);
      glm.call(d3.axisLeft(y).tickValues(p.minor).tickSize(8).tickSizeOuter(0).tickFormat(() => ""));
      styleAxis(glm, false);

      // right axis (ticks pointing inward)
      const gr = svg.append("g").attr("transform", `translate(${X1},0)`);
      gr.call(d3.axisLeft(y).tickValues(p.major).tickSize(15).tickSizeOuter(0).tickFormat(() => ""));
      styleAxis(gr, false);
      const grm = svg.append("g").attr("transform", `translate(${X1},0)`);
      grm.call(d3.axisLeft(y).tickValues(p.minor).tickSize(9).tickSizeOuter(0).tickFormat(() => ""));
      styleAxis(grm, false);

      // bottom axis
      const last = i === panels.length - 1;
      const gb = svg.append("g").attr("transform", `translate(0,${p.bottom})`);
      gb.call(d3.axisBottom(x).tickValues(latMajorTicks).tickSize(16).tickPadding(12).tickSizeOuter(0)
        .tickFormat((_d: any, k: number) => latTickLabels[k]));
      styleAxis(gb, last);
      const gbm = svg.append("g").attr("transform", `translate(0,${p.bottom})`);
      gbm.call(d3.axisBottom(x).tickValues(latMinorTicks).tickSize(8).tickSizeOuter(0).tickFormat(() => ""));
      styleAxis(gbm, false);

      // panel title
      const t = svg.append("text").attr("x", p.tx).attr("y", p.ty)
        .attr("font-family", FONT).attr("font-size", 37).attr("fill", "#000");
      t.append("tspan").text(p.title);
      if (p.sup) {
        t.append("tspan").attr("font-size", 24).attr("dy", -10).text("3");
        t.append("tspan").attr("dy", 10).text(")");
      }
    });

    // x-axis title
    axisTitleParts.forEach((s, k) => {
      svg.append("text").attr("x", axisTitleX[k]).attr("y", 1166).attr("font-family", FONT).attr("font-size", 36).attr("fill", "#000").text(s);
    });
  }, []);

  return (
    <svg ref={ref} width={900} height={1178} style={{ position: "absolute", left: 0, top: 0, background: "#fff" }} />
  );
}
